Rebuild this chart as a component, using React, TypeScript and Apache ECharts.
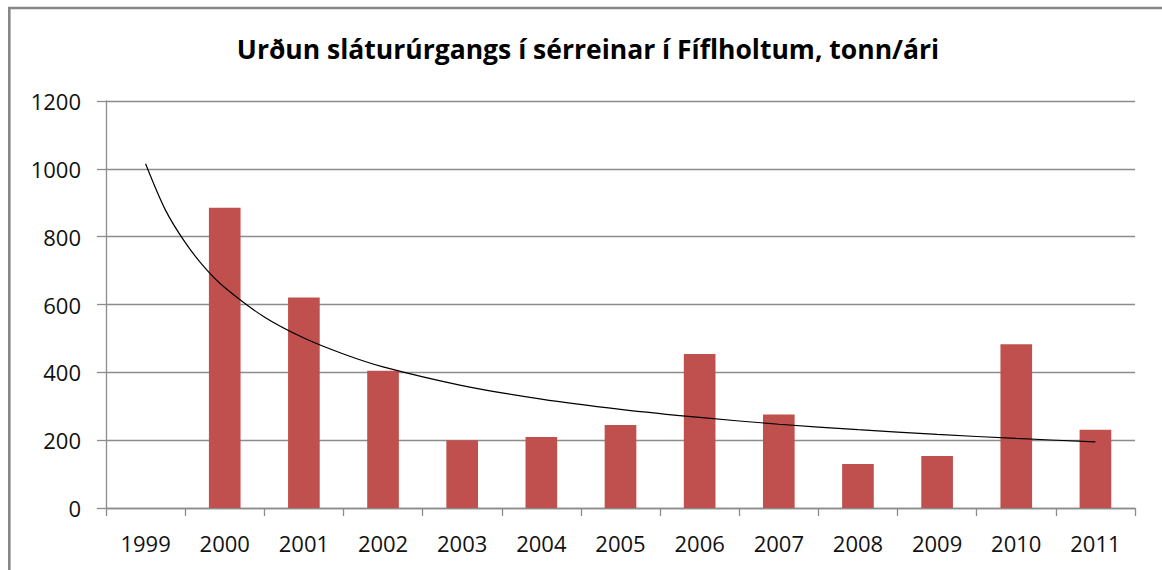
import React, { useEffect, useRef } from "react";
import * as echarts from "echarts";

const TITLE = "Urðun sláturúrgangs í sérreinar í Fíflholtum, tonn/ári";
const YEARS = ["1999", "2000", "2001", "2002", "2003", "2004", "2005", "2006", "2007", "2008", "2009", "2010", "2011"];
const TONNES: (number | null)[] = [null, 885, 621, 405, 200, 209, 245, 454, 276, 130, 153, 483, 231];
// trendline; position 1 = 1999 ... 13 = 2011
const TREND_POS = [1, 1.25, 1.5, 1.75, 2, 2.5, 3, 3.5, 4, 5, 6, 7, 8, 9, 10, 11, 12, 13];
const TREND_VAL = [1015, 879, 783, 708, 650, 563, 501, 454, 416, 361, 321, 291, 267, 247, 231, 217, 205, 195];

const FONT = "'Open Sans', 'Liberation Sans', sans-serif";
const GRID_GRAY = "#8c8c8c";

export default function App() {
  const ref = useRef<HTMLDivElement>(null);
  useEffect(() => {
    if (!ref.current) return;
    const chart = echarts.init(ref.current, null, { renderer: "svg" });
    const trendData = TREND_POS.map((p, i) => [p, TREND_VAL[i]]);
    chart.setOption({
      animation: false,
      backgroundColor: "#ffffff",
      grid: { left: 106, right: 27, top: 101, bottom: 62, containLabel: false },
      graphic: [
        {
          type: "rect",
          shape: { x: 9.3, y: 8, width: 1200, height: 700 },
          style: { fill: "none", stroke: "#878787", lineWidth: 2.6 },
          silent: true,
        },
        {
          type: "text",
          x: 588,
          y: 49,
          style: {
            text: TITLE,
            font: `bold 26.5px ${FONT}`,
            fill: "#000000",
            textAlign: "center",
            textVerticalAlign: "middle",
          },
        },
      ],
      xAxis: [
        {
          type: "category",
          data: YEARS,
          boundaryGap: true,
          axisLine: { show: true, lineStyle: { color: GRID_GRAY, width: 1.3 } },
          axisTick: { show: true, length: 8, alignWithLabel: false, lineStyle: { color: GRID_GRAY, width: 1.3 } },
          axisLabel: { color: "#111", fontFamily: FONT, fontSize: 22, margin: 24 },
          splitLine: { show: false },
        },
        {
          type: "value",
          min: 0.5,
          max: 13.5,
          show: false,
          splitLine: { show: false },
        },
      ],
      yAxis: {
        type: "value",
        min: 0,
        max: 1200,
        interval: 200,
        axisLine: { show: true, lineStyle: { color: GRID_GRAY, width: 1.3 } },
        axisTick: { show: true, length: 9, inside: false, lineStyle: { color: GRID_GRAY, width: 1.3 } },
        axisLabel: {
          color: "#111",
          fontFamily: FONT,
          fontSize: 22,
          margin: 25,
          formatter: (v: number) => String(v),
        },
        splitLine: { show: true, lineStyle: { color: GRID_GRAY, width: 1.3 } },
      },
      series: [
        {
          type: "bar",
          data: TONNES,
          barWidth: "40%",
          xAxisIndex: 0,
          itemStyle: { color: "#C0504D" },
        },
        {
          type: "line",
          data: trendData,
          xAxisIndex: 1,
          smooth: 0.3,
          symbol: "none",
          lineStyle: { color: "#000000", width: 1.2 },
          z: 5,
        },
      ],
    });
    return () => chart.dispose();
  }, []);
  return (
    <div
      ref={ref}
      style={{ position: "fixed", left: 0, top: 0, width: 1162, height: 570 }}
    />
  );
}
